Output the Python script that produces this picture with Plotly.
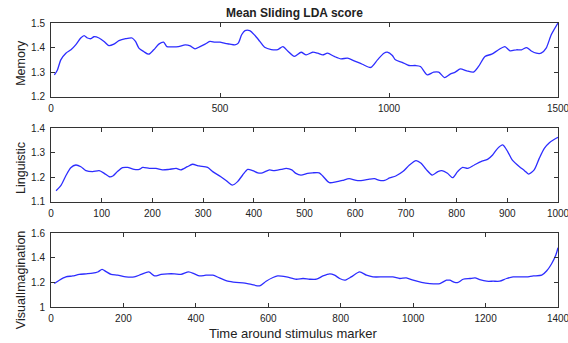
import plotly.graph_objects as go

# ---------------- data ----------------
mem_x = [10, 19, 29, 44, 59, 73, 88, 98, 108, 118, 127, 142, 157, 171, 186, 201, 221, 240, 250, 260,
         274, 289, 304, 319, 333, 343, 358, 377, 397, 412, 426, 441, 456, 470, 485, 500, 515, 529, 544,
         554, 564, 574, 588, 603, 618, 632, 652, 671, 686, 701, 720, 740, 755, 774, 789, 804, 818, 838,
         858, 877, 897, 921, 946, 966, 985, 995, 1010, 1019, 1039, 1059, 1078, 1093, 1113, 1132, 1147,
         1164, 1181, 1196, 1211, 1230, 1250, 1265, 1284, 1304, 1324, 1343, 1358, 1377, 1392, 1407, 1421,
         1436, 1450, 1465, 1480, 1500]
mem_y = [1.289, 1.309, 1.350, 1.377, 1.391, 1.411, 1.439, 1.449, 1.439, 1.436, 1.444, 1.439, 1.425,
         1.408, 1.414, 1.428, 1.436, 1.439, 1.425, 1.398, 1.384, 1.373, 1.391, 1.414, 1.422, 1.404,
         1.403, 1.404, 1.411, 1.407, 1.395, 1.404, 1.414, 1.425, 1.422, 1.422, 1.417, 1.414, 1.411,
         1.418, 1.452, 1.469, 1.469, 1.450, 1.425, 1.401, 1.392, 1.392, 1.404, 1.385, 1.364, 1.381,
         1.370, 1.381, 1.377, 1.370, 1.377, 1.364, 1.354, 1.357, 1.346, 1.332, 1.319, 1.350, 1.377,
         1.381, 1.368, 1.350, 1.340, 1.327, 1.327, 1.323, 1.289, 1.300, 1.300, 1.278, 1.292, 1.300,
         1.313, 1.305, 1.300, 1.323, 1.364, 1.373, 1.391, 1.404, 1.387, 1.391, 1.391, 1.400, 1.386,
         1.377, 1.377, 1.398, 1.452, 1.500]

ling_x = [10, 20, 30, 39, 49, 59, 69, 82, 95, 105, 115, 122, 131, 141, 151, 164, 174, 181, 194, 207,
          220, 233, 247, 256, 269, 279, 292, 309, 319, 335, 348, 358, 368, 378, 388, 398, 408, 417,
          431, 440, 454, 464, 475, 483, 493, 506, 516, 529, 536, 549, 562, 575, 588, 602, 615, 628,
          638, 648, 658, 668, 680, 694, 707, 720, 730, 740, 752, 763, 771, 782, 792, 802, 812, 822,
          835, 848, 861, 871, 881, 891, 901, 910, 924, 934, 942, 953, 963, 973, 983, 993, 1000]
ling_y = [1.145, 1.168, 1.209, 1.239, 1.250, 1.243, 1.227, 1.223, 1.227, 1.216, 1.202, 1.205, 1.223,
          1.239, 1.240, 1.232, 1.232, 1.240, 1.236, 1.236, 1.230, 1.232, 1.236, 1.230, 1.243, 1.253,
          1.246, 1.240, 1.223, 1.202, 1.182, 1.168, 1.182, 1.209, 1.232, 1.227, 1.218, 1.218, 1.230,
          1.227, 1.232, 1.236, 1.230, 1.216, 1.209, 1.216, 1.218, 1.218, 1.205, 1.178, 1.181, 1.187,
          1.194, 1.187, 1.187, 1.192, 1.194, 1.187, 1.187, 1.197, 1.205, 1.223, 1.250, 1.268, 1.257,
          1.232, 1.209, 1.223, 1.227, 1.216, 1.198, 1.223, 1.240, 1.236, 1.250, 1.264, 1.273, 1.291,
          1.318, 1.332, 1.304, 1.270, 1.243, 1.227, 1.213, 1.230, 1.277, 1.318, 1.341, 1.355, 1.363]

vis_x = [9, 23, 41, 60, 78, 97, 115, 129, 141, 152, 166, 184, 207, 230, 249, 270, 286, 304, 322, 341,
         359, 380, 396, 410, 428, 447, 465, 488, 511, 530, 553, 576, 594, 613, 626, 650, 677, 696, 714,
         733, 751, 770, 783, 797, 811, 829, 852, 871, 889, 917, 944, 963, 981, 1000, 1023, 1046, 1074,
         1092, 1101, 1115, 1124, 1138, 1157, 1171, 1184, 1203, 1221, 1239, 1258, 1276, 1295, 1313,
         1332, 1355, 1369, 1382, 1394, 1400]
vis_y = [1.191, 1.218, 1.245, 1.253, 1.265, 1.270, 1.275, 1.285, 1.306, 1.288, 1.265, 1.259, 1.245,
         1.245, 1.265, 1.286, 1.253, 1.265, 1.270, 1.270, 1.265, 1.286, 1.270, 1.253, 1.259, 1.259,
         1.237, 1.210, 1.200, 1.197, 1.184, 1.172, 1.210, 1.240, 1.253, 1.245, 1.226, 1.232, 1.226,
         1.226, 1.253, 1.270, 1.259, 1.232, 1.218, 1.245, 1.286, 1.259, 1.245, 1.245, 1.245, 1.232,
         1.237, 1.218, 1.200, 1.191, 1.191, 1.218, 1.218, 1.200, 1.200, 1.226, 1.232, 1.237, 1.223,
         1.210, 1.210, 1.210, 1.232, 1.245, 1.245, 1.245, 1.253, 1.259, 1.295, 1.350, 1.423, 1.482]

panel_names = ["Memory", "Linguistic", "VisualImagination"]
x_ranges = [[0, 1500], [0, 1000], [0, 1400]]
x_tickvals = [[0, 500, 1000, 1500],
              [0, 100, 200, 300, 400, 500, 600, 700, 800, 900, 1000],
              [0, 200, 400, 600, 800, 1000, 1200, 1400]]
y_ranges = [[1.2, 1.5], [1.1, 1.4], [1.0, 1.6]]
y_tickvals = [[1.2, 1.3, 1.4, 1.5], [1.1, 1.2, 1.3, 1.4], [1.0, 1.2, 1.4, 1.6]]
y_ticktext = [["1.2", "1.3", "1.4", "1.5"], ["1.1", "1.2", "1.3", "1.4"], ["1", "1.2", "1.4", "1.6"]]
title_text = "Mean Sliding LDA score"
xlabel_text = "Time around stimulus marker"

# ---------------- layout geometry (pixels) ----------------
W, H = 568, 343
L, R, T, B = 51, 10, 23, 36
PW, PH = W - L - R, H - T - B
panel_px = [(23, 96.7), (128.3, 201.7), (233.3, 307)]


def py2paper(y):
    return 1 - (y - T) / PH


def px2paper(x):
    return (x - L) / PW


FONT = "Liberation Sans, Arial, Helvetica, sans-serif"
LINE_COLOR = "rgb(45,45,255)"

fig = go.Figure()
series = [(mem_x, mem_y), (ling_x, ling_y), (vis_x, vis_y)]
for i, (xs, ys) in enumerate(series):
    sfx = "" if i == 0 else str(i + 1)
    fig.add_trace(go.Scatter(x=xs, y=ys, mode="lines",
                             line=dict(color=LINE_COLOR, width=1.3, shape="spline", smoothing=0.7),
                             xaxis="x" + sfx, yaxis="y" + sfx, showlegend=False,
                             hoverinfo="skip", cliponaxis=False))

axis_common = dict(showgrid=False, zeroline=False, showline=True, linecolor="#333",
                   linewidth=1, mirror="allticks", ticks="inside", ticklen=4,
                   tickcolor="#333", tickfont=dict(family=FONT, size=10, color="#222"),
                   ticklabeloverflow="allow", automargin=False)

layout = dict(width=W, height=H, margin=dict(l=L, r=R, t=T, b=B, autoexpand=False),
              plot_bgcolor="white", paper_bgcolor="white", showlegend=False)

annotations = []
for i in range(3):
    sfx = "" if i == 0 else str(i + 1)
    top, bot = panel_px[i]
    layout["xaxis" + sfx] = dict(axis_common, range=x_ranges[i], tickmode="array",
                                 tickvals=x_tickvals[i], ticktext=[str(v) for v in x_tickvals[i]],
                                 anchor="y" + sfx, domain=[0, 1], ticklabelstandoff=2)
    layout["yaxis" + sfx] = dict(axis_common, range=y_ranges[i], tickmode="array",
                                 tickvals=y_tickvals[i], ticktext=y_ticktext[i],
                                 anchor="x" + sfx, domain=[py2paper(bot), py2paper(top)],
                                 ticklabelstandoff=3)
    yc = (top + bot) / 2 + (10 if i == 2 else 3)
    annotations.append(dict(text=panel_names[i], textangle=-90, xref="paper", yref="paper",
                            x=px2paper(21), y=py2paper(yc), xanchor="center", yanchor="middle",
                            showarrow=False, font=dict(family=FONT, size=12.5, color="#222")))

annotations.append(dict(text="<b>" + title_text + "</b>", xref="paper", yref="paper",
                        x=px2paper(294), y=py2paper(13), xanchor="center", yanchor="middle",
                        showarrow=False, font=dict(family=FONT, size=12, color="#222")))
annotations.append(dict(text=xlabel_text, xref="paper", yref="paper",
                        x=px2paper(293), y=py2paper(333), xanchor="center", yanchor="middle",
                        showarrow=False, font=dict(family=FONT, size=13, color="#222")))
layout["annotations"] = annotations

fig.update_layout(**layout)
fig.write_html("out.html", config={"displayModeBar": False},
               post_script="document.body.style.margin='0';document.body.style.padding='0';"
                           "document.body.style.overflow='hidden';")
